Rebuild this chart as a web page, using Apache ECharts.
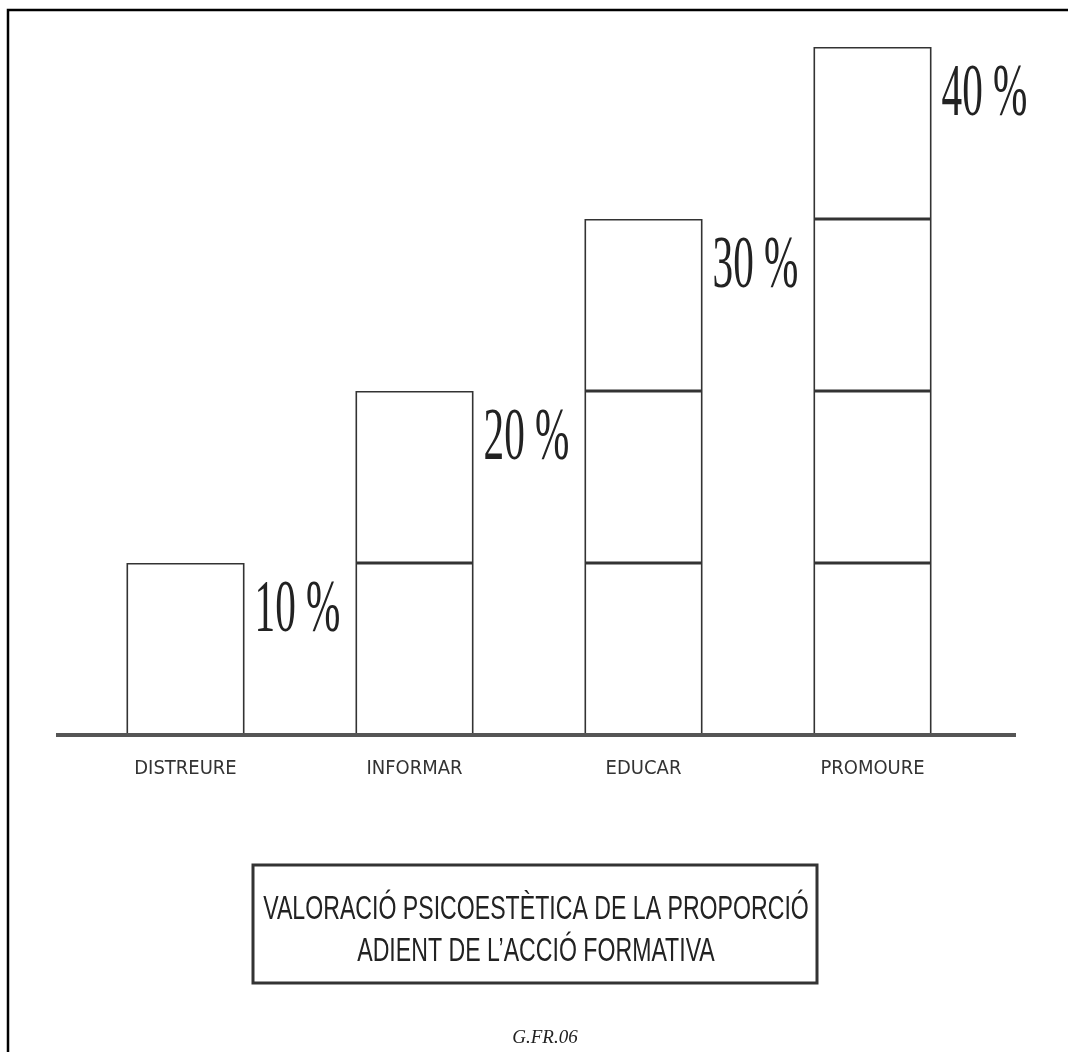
<!DOCTYPE html>
<html>
<head>
<meta charset="utf-8">
<script src="https://cdn.jsdelivr.net/npm/echarts@6/dist/echarts.min.js"></script>
<style>
  html, body { margin: 0; padding: 0; background: #fff; }
  #chart { width: 1068px; height: 1052px; }
</style>
</head>
<body>
<div id="chart"></div>
<script>
// dades del gràfic
const categories = ['DISTREURE', 'INFORMAR', 'EDUCAR', 'PROMOURE']
const percents = [10, 20, 30, 40]
const unit = 10 // cada bloc = 10 %
const titleLines = ['VALORACIÓ PSICOESTÈTICA DE LA PROPORCIÓ', 'ADIENT DE L’ACCIÓ FORMATIVA']
const footer = 'G.FR.06'

const myChart = echarts.init(document.getElementById('chart'))

// una sèrie apilada per cada bloc de 10 %
const maxBlocks = Math.max(...percents) / unit
const blockSeries = []
for (let k = 0; k < maxBlocks; k++) {
  blockSeries.push({
    name: 'bloc' + (k + 1),
    type: 'bar',
    stack: 'total',
    barWidth: 118,
    silent: true,
    itemStyle: { color: '#fff', borderColor: '#333', borderWidth: 1.6 },
    data: percents.map(p => (p >= (k + 1) * unit ? unit : '-'))
  })
}

// títol amb lletra estreta (escalat horitzontal)
const titleText = titleLines.map((t, i) => ({
  type: 'text',
  x: 536,
  y: 910 + i * 42,
  scaleX: 0.68,
  style: {
    text: t,
    textAlign: 'center',
    textVerticalAlign: 'middle',
    font: '34px "Liberation Sans", Arial, sans-serif',
    fill: '#222'
  },
  silent: true
}))

const option = {
  backgroundColor: '#fff',
  animation: false,
  grid: { left: 71, width: 916, top: 47, bottom: 317 },
  xAxis: {
    type: 'category',
    data: categories,
    axisLine: { show: false },
    axisTick: { show: false },
    axisLabel: {
      margin: 24,
      fontFamily: '"DejaVu Sans Condensed", "Liberation Sans", sans-serif',
      fontSize: 20,
      color: '#333'
    }
  },
  yAxis: { type: 'value', min: 0, max: 40, show: false },
  graphic: [
    // marc exterior
    { type: 'rect', shape: { x: 8, y: 10, width: 1200, height: 1200 }, style: { fill: 'none', stroke: '#000', lineWidth: 2.5 }, silent: true },
    // línia base
    { type: 'rect', shape: { x: 56, y: 733, width: 960, height: 4 }, style: { fill: '#555' }, silent: true, z: 10 },
    // caixa del títol
    { type: 'rect', shape: { x: 253, y: 865, width: 564, height: 118 }, style: { fill: 'none', stroke: '#333', lineWidth: 3 }, silent: true },
    {
      type: 'text', x: 545, y: 1038,
      style: {
        text: footer, textAlign: 'center', textVerticalAlign: 'middle',
        font: 'italic 19px "Liberation Serif", serif', fill: '#222'
      }
    }
  ].concat(titleText),
  series: blockSeries.concat([{
    type: 'custom',
    silent: true,
    data: percents.map((p, i) => [i, p]),
    renderItem(params, api) {
      const pt = api.coord([api.value(0), api.value(1)])
      return {
        type: 'text',
        x: pt[0] + 69,
        y: pt[1] + 48,
        scaleX: 0.55,
        style: {
          text: api.value(1) + ' %',
          font: '75px "Liberation Serif", serif',
          fill: '#222',
          textAlign: 'left',
          textVerticalAlign: 'middle'
        }
      }
    },
    z: 5
  }])
}

myChart.setOption(option)
window.addEventListener('resize', () => { myChart.resize() })
</script>
</body>
</html>
